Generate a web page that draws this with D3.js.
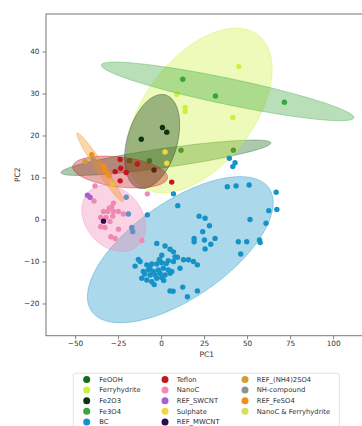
<!DOCTYPE html>
<html>
<head>
<meta charset="utf-8">
<script src="https://cdn.jsdelivr.net/npm/d3@7"></script>
<style>
  html, body { margin: 0; padding: 0; background: #fff; }
  svg { display: block; font-family: "DejaVu Sans", sans-serif; }
</style>
</head>
<body>
<svg id="chart" width="362" height="426"></svg>
<script>
// Sample groups, in legend / drawing order
const groups = ["FeOOH", "Ferryhydrite", "Fe2O3", "Fe3O4", "BC",
  "Teflon", "NanoC", "REF_SWCNT", "Sulphate", "REF_MWCNT",
  "REF_(NH4)2SO4", "NH-compound", "REF_FeSO4", "NanoC & Ferryhydrite"];
const groupColors = ["#17691d", "#cdf03c", "#0c3510", "#3aa63a", "#1593c8",
  "#c3161d", "#f189b3", "#a35fd3", "#f5d53a", "#2b0b50",
  "#cfa02e", "#8a9292", "#f28d1d", "#d6df5a"];

// PCA scores (PC1, PC2) per group
const ptsFeOOH = [[42.0, 16.5], [11.6, 16.5], [-6.8, 14.0], [-18.4, 14.0]];
const ptsFerryhydrite = [[45.2, 36.4], [41.7, 24.3], [14.0, 26.7], [14.0, 25.7], [9.1, 29.8]];
const ptsFe2O3 = [[0.8, 21.9], [3.3, 20.8], [-11.5, 19.1], [-4.1, 11.8]];
const ptsFe3O4 = [[12.6, 33.4], [31.6, 29.4], [71.7, 27.9]];
const ptsBC = [
  [39.7, 14.6], [43.0, 13.5], [41.7, 12.6], [38.5, 7.8], [43.6, 8.0], [51.2, 8.2],
  [66.9, 6.5], [62.6, 2.1], [67.3, 2.4], [51.7, 0.0], [61.0, -0.9], [22.1, 0.8],
  [25.6, 0.3], [28.1, -1.5], [24.2, -2.9], [19.2, -4.5], [19.2, -5.3], [25.2, -4.9],
  [28.9, -5.9], [31.4, -4.5], [25.6, -7.0], [44.9, -5.3], [49.8, -5.3], [57.2, -4.9],
  [57.6, -5.5], [46.3, -8.2], [7.2, 6.1], [9.7, 3.3], [-8.0, 1.1], [-20.3, 5.3],
  [-19.0, 1.3], [-17.0, -1.9], [-16.5, -2.9], [-2.5, -5.7], [5.2, -17.0], [7.0, -17.1],
  [12.6, -16.1], [21.1, -17.0], [15.3, -18.4],
  [2.3, -6.3], [5.2, -7.1], [7.2, -7.7], [0.4, -8.5], [8.1, -8.9], [-13.2, -9.5],
  [-12.2, -10.0], [-15.1, -11.1], [-8.3, -10.8], [-5.4, -10.6], [-2.5, -10.6], [0.4, -10.3],
  [4.2, -9.8], [7.2, -10.0], [11.0, -11.6], [13.0, -9.6], [15.9, -9.6], [18.8, -10.0],
  [21.1, -10.8], [-10.3, -12.4], [-7.4, -12.0], [-4.5, -12.4], [-1.6, -12.0], [1.3, -11.6],
  [4.2, -12.0], [6.2, -12.4], [-11.2, -14.0], [-8.3, -14.4], [-5.4, -14.8], [-2.5, -14.0],
  [0.4, -13.8], [2.3, -13.2], [5.2, -12.8], [-3.5, -13.2], [-0.6, -12.8], [-6.4, -13.2],
  [-9.5, -13.0], [-1.0, -9.5], [3.0, -10.5], [-6.5, -11.5], [9.5, -9.0], [-4.0, -15.5], [1.5, -14.5]
];
const ptsTeflon = [[-23.8, 14.3], [-13.8, 13.2], [-26.7, 11.4], [-23.4, 12.2], [-20.3, 11.2], [-23.8, 9.2], [6.2, 8.9]];
const ptsNanoC = [
  [-38.4, 8.0], [-8.0, 6.1], [-39.0, 4.4], [-27.7, 3.9], [-28.7, 3.0], [-30.1, 2.7],
  [-33.5, 1.9], [-31.0, 1.9], [-27.7, 1.9], [-24.8, 1.9], [-21.9, 1.3], [-35.1, 0.5],
  [-32.0, 0.5], [-28.1, 0.8], [-29.7, -0.5], [-35.1, -1.7], [-32.6, -1.9], [-24.8, -2.3],
  [-29.2, -4.1], [-26.7, -4.5], [-11.2, -5.0]
];
const ptsSWCNT = [[-42.8, 5.8], [-41.3, 5.3]];
const ptsSulphate = [[-28.1, 8.4], [2.3, 16.1], [3.3, 13.4]];
const ptsMWCNT = [[-33.5, -0.4]];
const ptsNH4SO4 = [[-44.2, 13.8]];
const ptsNHcompound = [[-39.4, 14.2]];
const ptsFeSO4 = [[-40.3, 15.4], [-33.5, 12.7], [-32.6, 12.0], [-31.2, 11.0], [-30.1, 10.4]];
const ptsNanoCFerry = [];

const groupPoints = [ptsFeOOH, ptsFerryhydrite, ptsFe2O3, ptsFe3O4, ptsBC,
  ptsTeflon, ptsNanoC, ptsSWCNT, ptsSulphate, ptsMWCNT,
  ptsNH4SO4, ptsNHcompound, ptsFeSO4, ptsNanoCFerry];

// Confidence ellipses: centre, x/y half-extent and correlation (data units)
const ellipseGroups = ["FeOOH", "Ferryhydrite", "Fe2O3", "Fe3O4", "BC", "Teflon", "NanoC", "REF_FeSO4"];
const ellipseCx = [2.8, 22.4, -5.2, 38.7, 11.2, -23.8, -27.5, -35.5];
const ellipseCy = [14.7, 25.95, 18.57, 30.5, -7.19, 11.3, 0.29, 12.4];
const ellipseRx = [61.0, 42.2, 16.0, 73.4, 54.0, 27.6, 18.6, 13.5];
const ellipseRy = [4.21, 19.6, 11.2, 6.98, 17.4, 3.8, 7.93, 8.2];
const ellipseCorr = [0.838, 0.503, 0.355, -0.891, 0.644, -0.32, -0.25, -0.972];

const xTicks = [-50, -25, 0, 25, 50, 75, 100];
const yTicks = [-20, -10, 0, 10, 20, 30, 40];

const svg = d3.select("#chart");
const plotLeft = 46, plotRight = 367.5, plotTop = 14, plotBottom = 335.7;

const x = d3.scaleLinear().domain([-66.9, 120]).range([plotLeft, plotRight]);
const y = d3.scaleLinear().domain([-27.67, 48.93]).range([plotBottom, plotTop]);
const color = d3.scaleOrdinal().domain(groups).range(groupColors);

const plot = svg.append("g");

function ellipsePath(i) {
  const cx = ellipseCx[i], cy = ellipseCy[i], rx = ellipseRx[i], ry = ellipseRy[i], r = ellipseCorr[i];
  const s = Math.sqrt(1 - r * r);
  const pts = d3.range(0, 144).map(k => {
    const t = k / 144 * 2 * Math.PI;
    return [cx + rx * Math.cos(t), cy + ry * (r * Math.cos(t) + s * Math.sin(t))];
  });
  return d3.line().x(d => x(d[0])).y(d => y(d[1])).curve(d3.curveLinearClosed)(pts);
}

groups.forEach((g, gi) => {
  plot.append("g").selectAll("circle")
    .data(groupPoints[gi]).join("circle")
    .attr("cx", d => x(d[0])).attr("cy", d => y(d[1]))
    .attr("r", 2.7)
    .attr("fill", color(g));
  const ei = ellipseGroups.indexOf(g);
  if (ei >= 0) {
    plot.append("path")
      .attr("d", ellipsePath(ei))
      .attr("fill", color(g)).attr("fill-opacity", 0.36)
      .attr("stroke", color(g)).attr("stroke-opacity", 0.45).attr("stroke-width", 0.8);
  }
});

// Axes
const fmt = d => d < 0 ? "\u2212" + Math.abs(d) : String(d);
const xAxis = svg.append("g").attr("transform", `translate(0,${plotBottom})`)
  .call(d3.axisBottom(x).tickValues(xTicks).tickFormat(fmt).tickSize(3.5).tickPadding(2));
const yAxis = svg.append("g").attr("transform", `translate(${plotLeft},0)`)
  .call(d3.axisLeft(y).tickValues(yTicks).tickFormat(fmt).tickSize(3.5).tickPadding(3));
[xAxis, yAxis].forEach(a => {
  a.select(".domain").remove();
  a.selectAll(".tick line").attr("stroke", "#666").attr("stroke-width", 0.8);
  a.selectAll(".tick text").attr("fill", "#333").style("font-size", "7.3px").style("font-family", "DejaVu Sans");
});

// Spines
svg.append("rect")
  .attr("x", plotLeft).attr("y", plotTop).attr("width", plotRight - plotLeft).attr("height", plotBottom - plotTop)
  .attr("fill", "none").attr("stroke", "#777").attr("stroke-width", 1);

svg.append("text").attr("x", (plotLeft + plotRight) / 2).attr("y", 357)
  .attr("text-anchor", "middle").attr("fill", "#333").style("font-size", "7.5px").text("PC1");
svg.append("text").attr("transform", `translate(20,${(plotTop + plotBottom) / 2}) rotate(-90)`)
  .attr("text-anchor", "middle").attr("fill", "#333").style("font-size", "7.5px").text("PC2");

// Legend (three columns)
const legend = svg.append("g");
legend.append("rect").attr("x", 73.3).attr("y", 373.3).attr("width", 266).attr("height", 62)
  .attr("rx", 2).attr("fill", "#fff").attr("stroke", "#ddd").attr("stroke-width", 0.8);
const colMarkerX = [86.7, 165, 245], colTextX = [99.3, 176.7, 256.7];
groups.forEach((g, i) => {
  const c = Math.floor(i / 5), r = i % 5;
  const yy = 379.5 + r * 10.6;
  legend.append("circle").attr("cx", colMarkerX[c]).attr("cy", yy).attr("r", 3.5).attr("fill", color(g));
  legend.append("text").attr("x", colTextX[c]).attr("y", yy).attr("dy", "0.35em")
    .attr("fill", "#333").style("font-size", "6.8px").text(g);
});
</script>
</body>
</html>
